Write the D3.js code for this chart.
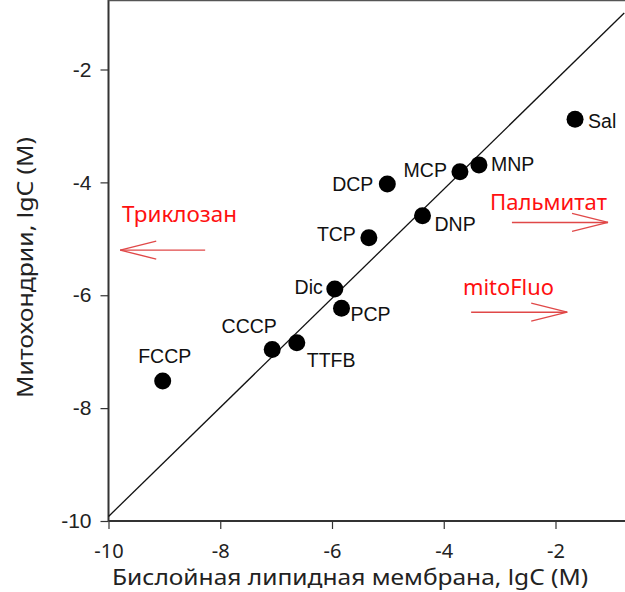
<!DOCTYPE html>
<html>
<head>
<meta charset="utf-8">
<script src="https://cdn.jsdelivr.net/npm/d3@7"></script>
<style>
  body { margin: 0; background: #fff; }
  svg { display: block; }
</style>
</head>
<body>
<svg width="625" height="592"></svg>
<script>
// data
var names   = ['Sal', 'MNP', 'MCP', 'DCP', 'DNP', 'TCP', 'Dic', 'PCP', 'CCCP', 'TTFB', 'FCCP'];
var bilayer = [-1.65, -3.37, -3.71, -5.01, -4.38, -5.34, -5.95, -5.83, -7.07, -6.63, -9.03];
var mito    = [-2.88, -3.69, -3.81, -4.03, -4.59, -4.98, -5.89, -6.23, -6.96, -6.84, -7.52];
var xTicks = [-10, -8, -6, -4, -2];
var yTicks = [-10, -8, -6, -4, -2];
var diagonal = [[-10, -9.92], [-0.77, -1]];
// red notes: text and arrow (from, to) in data units
var notes     = ['Триклозан', 'Пальмитат', 'mitoFluo'];
var arrowFrom = [[-8.27, -5.20], [-2.78, -4.71], [-3.51, -6.30]];
var arrowTo   = [[-9.79, -5.20], [-1.06, -4.71], [-1.79, -6.30]];

// label placement: [dx, dy, anchor]
var labelPos = {
  Sal: [13, 2, 'start'], MNP: [12, -1, 'start'], MCP: [-13, -1, 'end'],
  DCP: [-14, 0, 'end'], DNP: [12, 9, 'start'], TCP: [-13, -4, 'end'],
  Dic: [-12, -2, 'end'], PCP: [9, 6, 'start'], CCCP: [-23, -23, 'middle'],
  TTFB: [10, 18, 'start'], FCCP: [2, -25, 'middle']
};
// note text: x, baseline y, width
var notePos = [[122, 222, 115], [490, 210, 117], [463, 295, 91]];

var svg = d3.select('svg');
var x = d3.scaleLinear().domain([-10, -2]).range([108.5, 555.5]);
var y = d3.scaleLinear().domain([-10, -2]).range([521, 69.5]);
var left = x(-10), right = 625, top = y(-1), bottom = y(-10);

// axes
var xa = svg.append('g')
    .attr('transform', 'translate(0,' + bottom + ')')
    .call(d3.axisBottom(x).tickValues(xTicks).tickSize(8).tickSizeOuter(0).tickPadding(15));
xa.select('.domain').remove();
xa.selectAll('line').attr('stroke', '#333').attr('stroke-width', 1.2);
xa.selectAll('text').attr('font-family', '"Noto Sans", sans-serif').attr('font-size', 20).attr('fill', '#222')
    .text(function(d) { return '-' + Math.abs(d); });

var ya = svg.append('g')
    .attr('transform', 'translate(' + left + ',0)')
    .call(d3.axisLeft(y).tickValues(yTicks).tickSize(8).tickSizeOuter(0).tickPadding(9));
ya.select('.domain').remove();
ya.selectAll('line').attr('stroke', '#333').attr('stroke-width', 1.2);
ya.selectAll('text').attr('font-family', '"Liberation Sans", Arial, sans-serif').attr('font-size', 21).attr('fill', '#222')
    .text(function(d) { return '-' + Math.abs(d); });

// frame lines
svg.append('line').attr('x1', left).attr('x2', right).attr('y1', bottom).attr('y2', bottom)
    .attr('stroke', '#333').attr('stroke-width', 2);
svg.append('line').attr('x1', left).attr('x2', left).attr('y1', top).attr('y2', bottom)
    .attr('stroke', '#333').attr('stroke-width', 2);
svg.append('line').attr('x1', left).attr('x2', right).attr('y1', top).attr('y2', top)
    .attr('stroke', '#555').attr('stroke-width', 2.5);

// diagonal y = x
svg.append('path')
    .attr('d', d3.line().x(function(d) { return x(d[0]); }).y(function(d) { return y(d[1]); })(diagonal))
    .attr('stroke', '#111').attr('stroke-width', 1.3).attr('fill', 'none');

// points
var pts = names.map(function(n, i) { return { name: n, bx: bilayer[i], my: mito[i] }; });
svg.selectAll('circle.pt').data(pts).enter().append('circle')
    .attr('class', 'pt')
    .attr('cx', function(d) { return x(d.bx); })
    .attr('cy', function(d) { return y(d.my); })
    .attr('r', 8.5)
    .attr('fill', '#000');

svg.selectAll('text.lbl').data(pts).enter().append('text')
    .attr('class', 'lbl')
    .attr('x', function(d) { return x(d.bx) + labelPos[d.name][0]; })
    .attr('y', function(d) { return y(d.my) + labelPos[d.name][1]; })
    .attr('dy', '0.35em')
    .attr('text-anchor', function(d) { return labelPos[d.name][2]; })
    .attr('font-family', '"Liberation Sans", Arial, sans-serif')
    .attr('font-size', 19.5)
    .attr('fill', '#111')
    .text(function(d) { return d.name; });

// red notes and arrows
notes.forEach(function(t, i) {
  svg.append('text')
      .attr('x', notePos[i][0]).attr('y', notePos[i][1])
      .attr('font-family', '"Noto Sans", sans-serif').attr('font-size', 21)
      .attr('textLength', notePos[i][2]).attr('lengthAdjust', 'spacingAndGlyphs')
      .attr('fill', '#ff1010')
      .text(t);
  var x0 = x(arrowFrom[i][0]), y0 = y(arrowFrom[i][1]);
  var x1 = x(arrowTo[i][0]), y1 = y(arrowTo[i][1]);
  var dir = x1 > x0 ? -1 : 1;
  var g = svg.append('g').attr('stroke', '#e04848').attr('stroke-width', 1.4).attr('fill', 'none');
  g.append('line').attr('x1', x0).attr('y1', y0).attr('x2', x1).attr('y2', y1);
  g.append('line').attr('x1', x1).attr('y1', y1).attr('x2', x1 + dir * 36).attr('y2', y1 - 9);
  g.append('line').attr('x1', x1).attr('y1', y1).attr('x2', x1 + dir * 36).attr('y2', y1 + 9);
});

// axis titles
svg.append('text')
    .attr('x', 112).attr('y', 585)
    .attr('font-family', '"Noto Sans", sans-serif').attr('font-size', 21).attr('fill', '#222')
    .attr('textLength', 476).attr('lengthAdjust', 'spacingAndGlyphs')
    .text('Бислойная липидная мембрана, lgC (M)');
svg.append('text')
    .attr('transform', 'translate(33,398) rotate(-90)')
    .attr('font-family', '"Noto Sans", sans-serif').attr('font-size', 21).attr('fill', '#222')
    .attr('textLength', 261).attr('lengthAdjust', 'spacingAndGlyphs')
    .text('Митохондрии, lgC (M)');
</script>
</body>
</html>
